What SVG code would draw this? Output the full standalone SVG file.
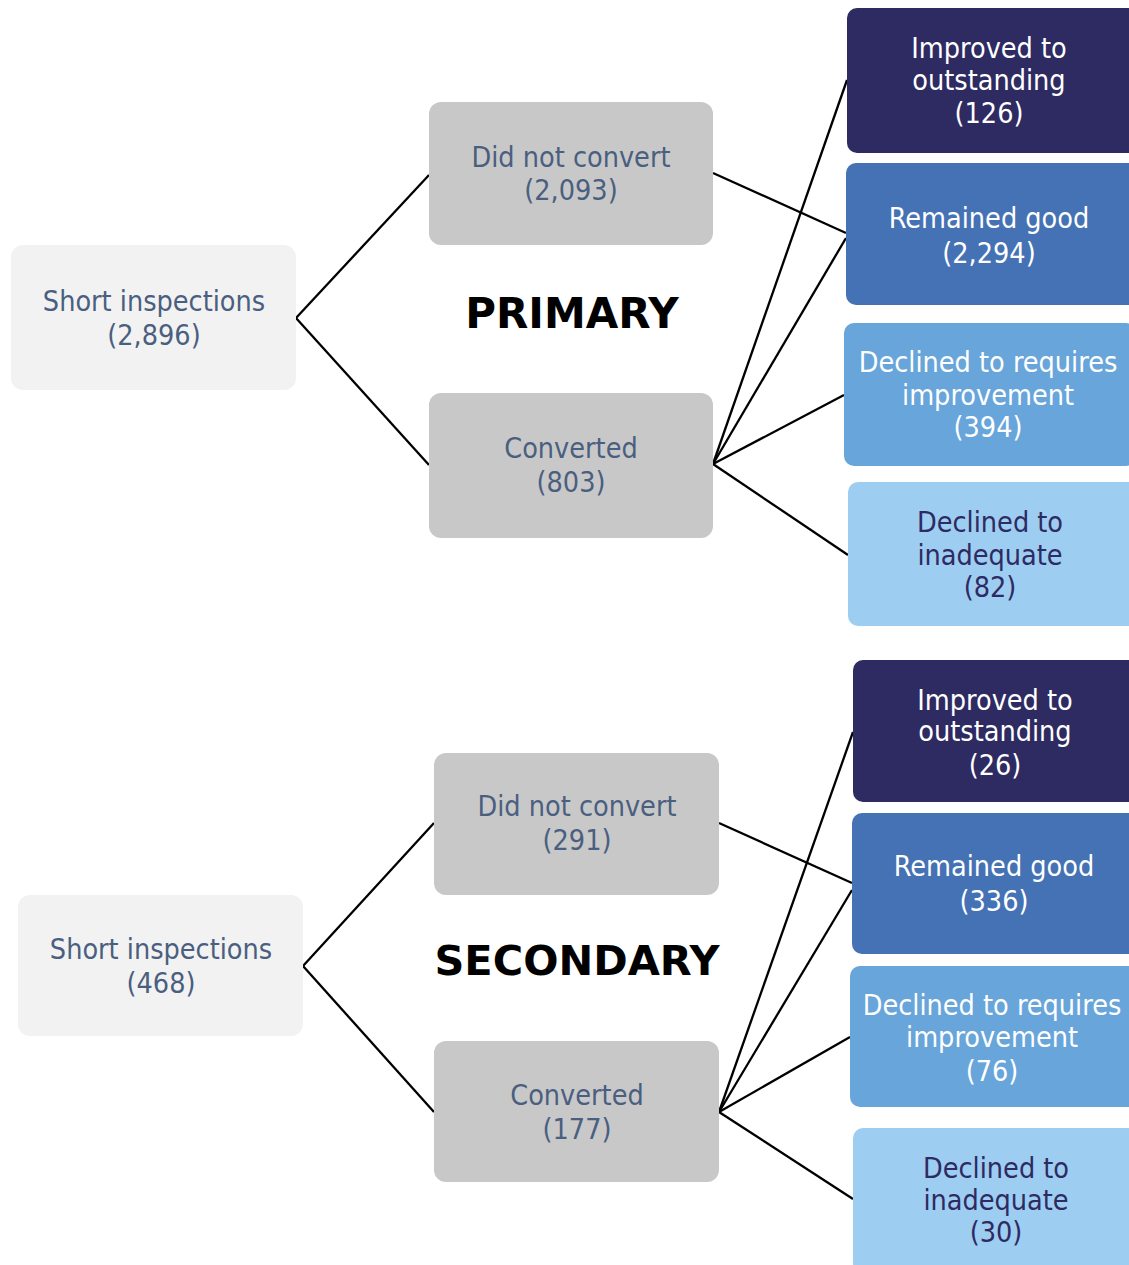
<svg xmlns="http://www.w3.org/2000/svg" width="1129" height="1265" viewBox="0 0 1129 1265">
<style>
.t{font-family:"DejaVu Sans Condensed","Noto Sans",sans-serif;font-size:28.5px;text-anchor:middle}
.g{fill:#4a5f80}
.w{fill:#ffffff}
.n{fill:#2e2a62}
.root{fill:#f2f2f2}
.mid{fill:#c8c8c8}
.c1{fill:#2e2a62}
.c2{fill:#4472b4}
.c3{fill:#68a5da}
.c4{fill:#9dcdf1}
.h{font-family:"DejaVu Sans","Verdana",sans-serif;font-weight:bold;font-size:42px;text-anchor:middle;fill:#000}
#connectors line{stroke:#000;stroke-width:2.3;fill:none}
</style>
<rect width="1129" height="1265" fill="#fff"/>
<g id="connectors">
<line x1="296" y1="318" x2="429" y2="175"/>
<line x1="296" y1="318" x2="429" y2="465"/>
<line x1="713" y1="173" x2="846" y2="233"/>
<line x1="713" y1="464" x2="847" y2="80"/>
<line x1="713" y1="464" x2="846" y2="238"/>
<line x1="713" y1="464" x2="844" y2="395"/>
<line x1="713" y1="464" x2="848" y2="555"/>
<line x1="303" y1="966" x2="434" y2="823"/>
<line x1="303" y1="966" x2="434" y2="1112"/>
<line x1="719" y1="823" x2="852" y2="883"/>
<line x1="719" y1="1112" x2="853" y2="732"/>
<line x1="719" y1="1112" x2="852" y2="890"/>
<line x1="719" y1="1112" x2="850" y2="1037"/>
<line x1="719" y1="1112" x2="853" y2="1199"/>
</g>
<g id="p-root"><rect class="root" x="11" y="245" width="285" height="145" rx="12"/>
<text class="t g" x="154" y="311">Short inspections</text><text class="t g" x="154" y="345">(2,896)</text></g>
<g id="p-dnc"><rect class="mid" x="429" y="102" width="284" height="143" rx="12"/>
<text class="t g" x="571" y="167">Did not convert</text><text class="t g" x="571" y="200">(2,093)</text></g>
<g id="p-conv"><rect class="mid" x="429" y="393" width="284" height="145" rx="12"/>
<text class="t g" x="571" y="458">Converted</text><text class="t g" x="571" y="492">(803)</text></g>
<text id="p-title" class="h" x="572" y="328">PRIMARY</text>
<g id="p-out"><rect class="c1" x="847" y="8" width="292" height="145" rx="10"/>
<text class="t w" x="989" y="58">Improved to</text><text class="t w" x="989" y="90">outstanding</text><text class="t w" x="989" y="123">(126)</text></g>
<g id="p-good"><rect class="c2" x="846" y="163" width="292" height="142" rx="10"/>
<text class="t w" x="989" y="228">Remained good</text><text class="t w" x="989" y="263">(2,294)</text></g>
<g id="p-ri"><rect class="c3" x="844" y="323" width="292" height="143" rx="10"/>
<text class="t w" x="988" y="372">Declined to requires</text><text class="t w" x="988" y="405">improvement</text><text class="t w" x="988" y="437">(394)</text></g>
<g id="p-inad"><rect class="c4" x="848" y="482" width="292" height="144" rx="10"/>
<text class="t n" x="990" y="532">Declined to</text><text class="t n" x="990" y="565">inadequate</text><text class="t n" x="990" y="597">(82)</text></g>
<g id="s-root"><rect class="root" x="18" y="895" width="285" height="141" rx="12"/>
<text class="t g" x="161" y="959">Short inspections</text><text class="t g" x="161" y="993">(468)</text></g>
<g id="s-dnc"><rect class="mid" x="434" y="753" width="285" height="142" rx="12"/>
<text class="t g" x="577" y="816">Did not convert</text><text class="t g" x="577" y="850">(291)</text></g>
<g id="s-conv"><rect class="mid" x="434" y="1041" width="285" height="141" rx="12"/>
<text class="t g" x="577" y="1105">Converted</text><text class="t g" x="577" y="1139">(177)</text></g>
<text id="s-title" class="h" x="577" y="975" style="font-size:41.5px">SECONDARY</text>
<g id="s-out"><rect class="c1" x="853" y="660" width="292" height="142" rx="10"/>
<text class="t w" x="995" y="710">Improved to</text><text class="t w" x="995" y="741">outstanding</text><text class="t w" x="995" y="775">(26)</text></g>
<g id="s-good"><rect class="c2" x="852" y="813" width="292" height="141" rx="10"/>
<text class="t w" x="994" y="876">Remained good</text><text class="t w" x="994" y="911">(336)</text></g>
<g id="s-ri"><rect class="c3" x="850" y="966" width="292" height="141" rx="10"/>
<text class="t w" x="992" y="1015">Declined to requires</text><text class="t w" x="992" y="1047">improvement</text><text class="t w" x="992" y="1081">(76)</text></g>
<g id="s-inad"><rect class="c4" x="853" y="1128" width="292" height="145" rx="10"/>
<text class="t n" x="996" y="1178">Declined to</text><text class="t n" x="996" y="1210">inadequate</text><text class="t n" x="996" y="1242">(30)</text></g>
</svg>
